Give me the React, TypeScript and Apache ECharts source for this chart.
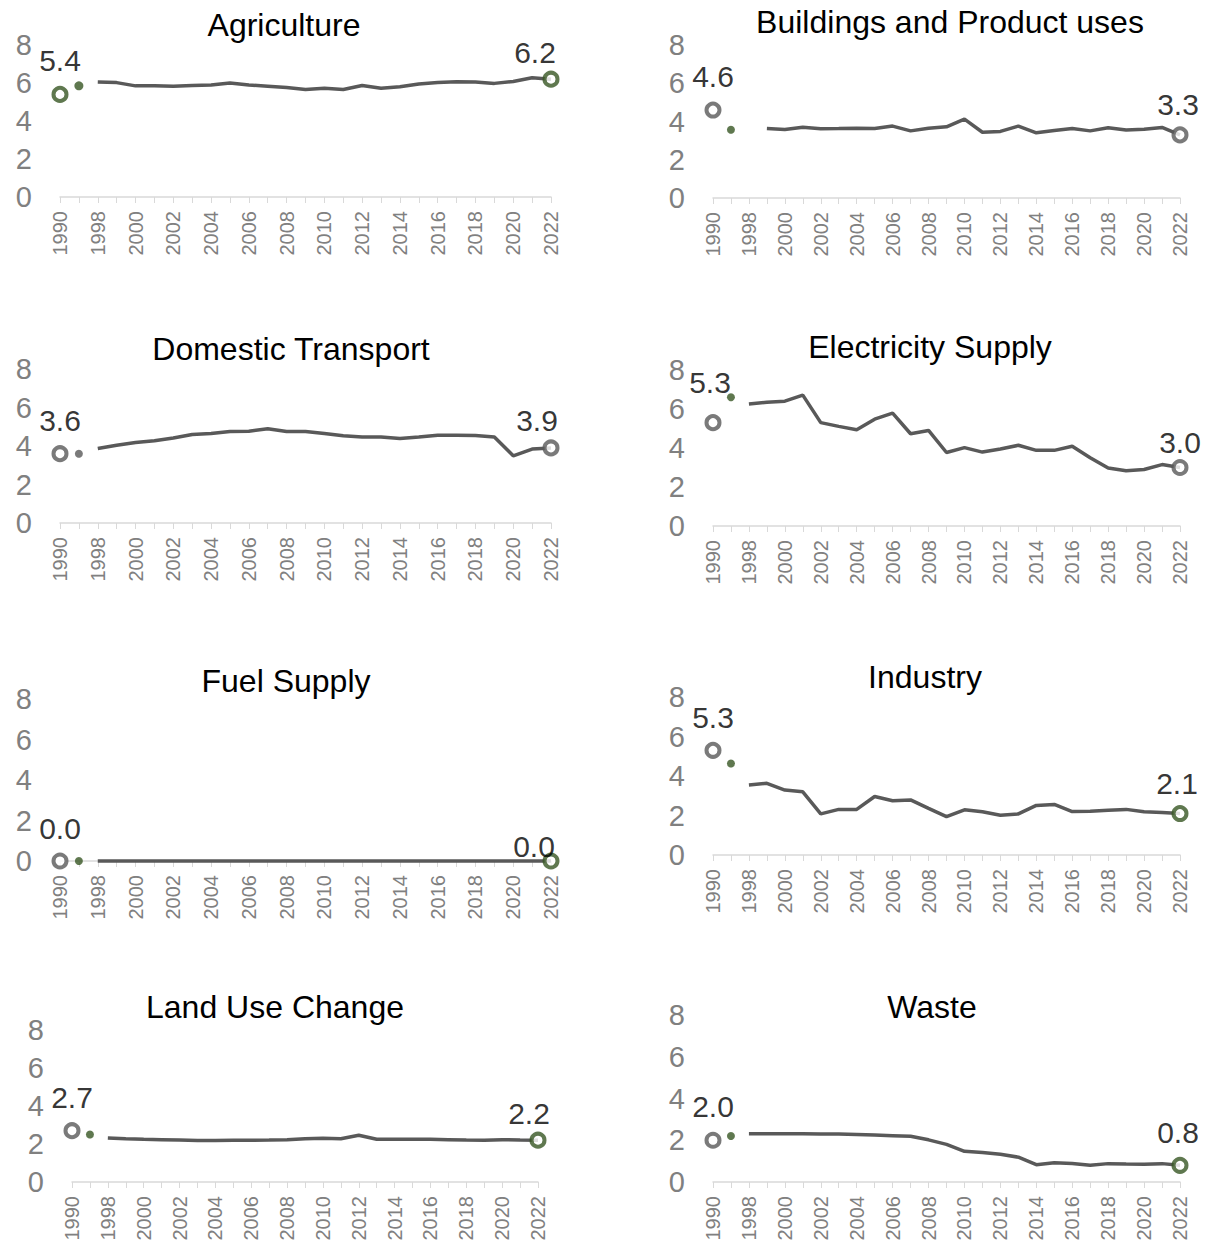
import React, { useEffect, useRef } from "react";
import * as echarts from "echarts";

const years = [
  "1990", "1995", "1998", "1999", "2000", "2001", "2002", "2003", "2004",
  "2005", "2006", "2007", "2008", "2009", "2010", "2011", "2012", "2013",
  "2014", "2015", "2016", "2017", "2018", "2019", "2020", "2021", "2022",
];

const titles = [
  "Agriculture",
  "Buildings and Product uses",
  "Domestic Transport",
  "Electricity Supply",
  "Fuel Supply",
  "Industry",
  "Land Use Change",
  "Waste",
];

const yTicks = [0, 2, 4, 6, 8];

const agriculture = [5.4, 5.85, 6.05, 6.02, 5.85, 5.85, 5.83, 5.87, 5.9, 6.0, 5.9, 5.83, 5.76, 5.66, 5.72, 5.66, 5.87, 5.72, 5.8, 5.95, 6.02, 6.07, 6.05, 5.98, 6.08, 6.28, 6.2];
const buildings = [4.6, 3.57, null, 3.63, 3.58, 3.7, 3.62, 3.63, 3.65, 3.63, 3.76, 3.51, 3.65, 3.72, 4.12, 3.44, 3.48, 3.76, 3.41, 3.53, 3.63, 3.51, 3.67, 3.55, 3.6, 3.69, 3.3];
const domesticTransport = [3.6, 3.6, 3.87, 4.04, 4.18, 4.27, 4.42, 4.6, 4.65, 4.75, 4.77, 4.9, 4.75, 4.75, 4.65, 4.53, 4.47, 4.47, 4.39, 4.47, 4.56, 4.56, 4.54, 4.47, 3.49, 3.84, 3.9];
const electricitySupply = [5.3, 6.6, 6.26, 6.35, 6.4, 6.71, 5.3, 5.11, 4.94, 5.48, 5.79, 4.73, 4.9, 3.77, 4.02, 3.79, 3.95, 4.14, 3.88, 3.88, 4.09, 3.5, 2.97, 2.83, 2.9, 3.15, 3.0];
const fuelSupply = [0, 0, 0, 0, 0, 0, 0, 0, 0, 0, 0, 0, 0, 0, 0, 0, 0, 0, 0, 0, 0, 0, 0, 0, 0, 0, 0];
const industry = [5.3, 4.63, 3.55, 3.63, 3.29, 3.2, 2.08, 2.31, 2.31, 2.96, 2.75, 2.79, 2.36, 1.94, 2.29, 2.19, 2.01, 2.08, 2.51, 2.56, 2.2, 2.22, 2.27, 2.31, 2.19, 2.15, 2.1];
const landUseChange = [2.7, 2.5, 2.32, 2.28, 2.25, 2.23, 2.21, 2.18, 2.18, 2.2, 2.2, 2.21, 2.23, 2.27, 2.3, 2.28, 2.46, 2.25, 2.25, 2.25, 2.25, 2.23, 2.21, 2.2, 2.23, 2.21, 2.2];
const waste = [2.0, 2.2, 2.31, 2.31, 2.31, 2.31, 2.3, 2.3, 2.28, 2.25, 2.22, 2.19, 2.02, 1.8, 1.47, 1.41, 1.33, 1.19, 0.83, 0.92, 0.89, 0.8, 0.88, 0.86, 0.85, 0.88, 0.8];

const sectors = [agriculture, buildings, domesticTransport, electricitySupply, fuelSupply, industry, landUseChange, waste];

const GREEN = "#375623";
const GRAY = "#595959";
// colours of [1990 circle, 1995 dot, 2022 circle]
const markerColors = [
  [GREEN, GREEN, GREEN],
  [GRAY, GREEN, GRAY],
  [GRAY, GRAY, GRAY],
  [GRAY, GREEN, GRAY],
  [GRAY, GREEN, GREEN],
  [GRAY, GREEN, GREEN],
  [GRAY, GREEN, GREEN],
  [GRAY, GREEN, GREEN],
];

const layouts = [
  { left: 60, top: 45, width: 491, height: 152, tx: 284, ty: 26, sDist: 10, sOff: [0, 0], eDist: 3, eOff: [-16, 0] },
  { left: 713, top: 45, width: 467, height: 153, tx: 950, ty: 23, sDist: 10, sOff: [0, 0], eDist: 7, eOff: [-2, 0] },
  { left: 60, top: 369, width: 491, height: 154, tx: 291, ty: 350, sDist: 10, sOff: [0, 0], eDist: 4, eOff: [-14, 0] },
  { left: 713, top: 370, width: 467, height: 156, tx: 930, ty: 348, sDist: 17, sOff: [-3, 0], eDist: 2, eOff: [0, 0] },
  { left: 60, top: 699, width: 491, height: 162, tx: 286, ty: 682, sDist: 9, sOff: [0, 0], eDist: -9, eOff: [-17, 0] },
  { left: 713, top: 697, width: 467, height: 158, tx: 925, ty: 678, sDist: 9, sOff: [0, 0], eDist: 7, eOff: [-3, 0] },
  { left: 72, top: 1030, width: 466, height: 152, tx: 275, ty: 1008, sDist: 10, sOff: [0, 0], eDist: 3, eOff: [-9, 0] },
  { left: 713, top: 1015, width: 467, height: 167, tx: 932, ty: 1008, sDist: 10, sOff: [0, 0], eDist: 9, eOff: [-2, 0] },
];

const FONT = "'Liberation Sans', Arial, Helvetica, sans-serif";
const LAST = years.length - 1;

function circleSeries(i: number, idx: number, color: string, dist: number, off: number[]) {
  return {
    type: "scatter",
    xAxisIndex: i,
    yAxisIndex: i,
    data: [[years[idx], sectors[i][idx]]],
    symbol: "circle",
    symbolSize: 13,
    clip: false,
    z: 5,
    itemStyle: { color: "#ffffff", borderColor: color, borderWidth: 4 },
    label: {
      show: true,
      position: "top",
      distance: dist,
      offset: off,
      formatter: (p: any) => Number(p.value[1]).toFixed(1),
      fontSize: 30,
      color: "#000000",
      fontFamily: FONT,
    },
  };
}

export default function App() {
  const ref = useRef<HTMLDivElement>(null);

  useEffect(() => {
    if (!ref.current) return;
    const chart = echarts.init(ref.current, undefined, { renderer: "svg" });

    const grid = layouts.map((l) => ({
      left: l.left,
      top: l.top,
      width: l.width,
      height: l.height,
      containLabel: false,
      outerBoundsMode: "none",
    }));

    const xAxis = layouts.map((_, i) => ({
      type: "category",
      gridIndex: i,
      data: years,
      boundaryGap: false,
      axisLine: { show: true, lineStyle: { color: "#d9d9d9", width: 1.5 } },
      axisTick: { show: true, interval: 0, length: 6, lineStyle: { color: "#d9d9d9", width: 1 } },
      axisLabel: { interval: 1, rotate: 90, color: "#808080", fontSize: 20, margin: 14, fontFamily: FONT },
      splitLine: { show: false },
    }));

    const yAxis = layouts.map((_, i) => ({
      type: "value",
      gridIndex: i,
      min: yTicks[0],
      max: yTicks[yTicks.length - 1],
      interval: yTicks[1] - yTicks[0],
      splitLine: { show: false },
      axisLine: { show: false },
      axisTick: { show: false },
      axisLabel: { color: "#808080", fontSize: 29, margin: 28, fontFamily: FONT },
    }));

    const series: any[] = [];
    sectors.forEach((vals, i) => {
      const [c0, c1, c2] = markerColors[i];
      const l = layouts[i];
      series.push({
        type: "line",
        xAxisIndex: i,
        yAxisIndex: i,
        data: vals.map((v, k) => (k < 2 ? null : v)),
        showSymbol: false,
        symbol: "none",
        connectNulls: false,
        clip: false,
        z: 2,
        lineStyle: { color: GRAY, width: 3.5 },
      });
      series.push({
        type: "scatter",
        xAxisIndex: i,
        yAxisIndex: i,
        data: [[years[1], vals[1]]],
        symbol: "circle",
        symbolSize: i === 0 ? 9 : 8,
        clip: false,
        z: 4,
        itemStyle: { color: c1 },
      });
      series.push(circleSeries(i, 0, c0, l.sDist, l.sOff));
      series.push(circleSeries(i, LAST, c2, l.eDist, l.eOff));
    });

    const title = titles.map((t, i) => ({
      text: t,
      left: layouts[i].tx,
      top: layouts[i].ty - 17,
      textAlign: "center",
      padding: 0,
      textStyle: { fontSize: 32, fontWeight: "normal", color: "#000000", fontFamily: FONT },
    }));

    chart.setOption({
      animation: false,
      backgroundColor: "#ffffff",
      title,
      grid,
      xAxis,
      yAxis,
      series,
    });

    return () => chart.dispose();
  }, []);

  return (
    <div
      ref={ref}
      style={{ position: "absolute", left: 0, top: 0, width: 1208, height: 1246, background: "#ffffff" }}
    />
  );
}
